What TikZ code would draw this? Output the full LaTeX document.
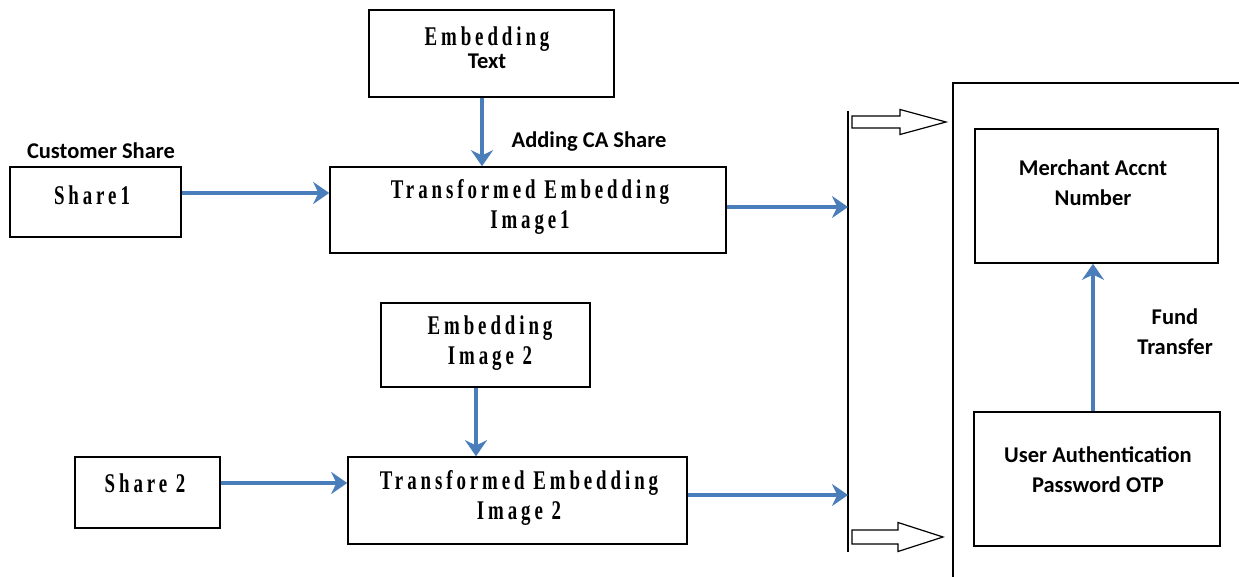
\documentclass[tikz,border=0pt]{standalone}
\usepackage{fontspec}
\setmainfont{Liberation Serif}
\newfontfamily\lblfont{Carlito}
\newfontfamily\ttlfont[FakeStretch=0.7,LetterSpace=14.5]{Liberation Serif}
\usetikzlibrary{arrows.meta}
\definecolor{flowblue}{RGB}{74,126,187}
\newcommand{\ttlf}{\ttlfont\bfseries\fontsize{27}{30}\selectfont}
\newcommand{\lblf}{\lblfont\bfseries\fontsize{22.5}{30}\selectfont}
\begin{document}
\begin{tikzpicture}[x=1pt,y=-1pt,
  box/.style={draw, line width=1.6pt, inner sep=0pt},
  ttl/.style={font=\ttlf, align=center, inner sep=0pt},
  lbl/.style={font=\lblf, align=center, inner sep=0pt},
  flow/.style={draw=flowblue, line width=3.8pt, -{Stealth[length=16pt,width=22pt]}},
  hollow/.style={draw, line width=1.2pt, fill=white},
  frame/.style={line width=1.3pt}]
\useasboundingbox (0,0) rectangle (1239,577);

% boxes
\node[box, minimum width=245pt, minimum height=87pt] (embtext) at (491.5,53.5) {};
\node[box, minimum width=171pt, minimum height=70pt] (share1) at (95.5,202) {};
\node[box, minimum width=396pt, minimum height=86pt] (te1) at (528,210) {};
\node[box, minimum width=209pt, minimum height=84pt] (embimg) at (485.5,345) {};
\node[box, minimum width=145pt, minimum height=71pt] (share2) at (147.5,492.5) {};
\node[box, minimum width=339pt, minimum height=87pt] (te2) at (517.5,500.5) {};
\node[box, minimum width=243pt, minimum height=134pt] (merchant) at (1096.5,196) {};
\node[box, minimum width=246pt, minimum height=134pt] (userauth) at (1097,479) {};

% texts
\node[align=center, inner sep=0pt, font=\fontsize{21}{23}\selectfont] (embtextT) at (487,48) {{\ttlf Embedding}\\{\lblf Text}};
\node[ttl] (share1T) at (92,195) {Share1};
\node[ttl] (te1T) at (530,207) {Transformed Embedding\\Image1};
\node[ttl] (embimgT) at (490,343) {Embedding\\Image 2};
\node[ttl] (share2T) at (145,483) {Share 2};
\node[ttl] (te2T) at (519,498) {Transformed Embedding\\Image 2};
\node[lbl] (merchantT) at (1093,183) {Merchant Accnt\\Number};
\node[lbl] (userauthT) at (1098,470) {User Authentication\\Password OTP};
\node[lbl] (custT) at (101,151) {Customer Share};
\node[lbl] (caT) at (589,142) {Adding CA Share};
\node[lbl] (fundT) at (1175,332) {Fund\\Transfer};

% bar and frame
\coordinate (bartop) at (848,111);
\coordinate (barbot) at (848,552);
\draw[frame] (bartop) -- (barbot);
\coordinate (frameL) at (953,577);
\coordinate (frameTL) at (953,83);
\coordinate (frameTR) at (1239,83);
\draw[frame] (frameL) -- (frameTL) -- (frameTR);

% blue flows
\draw[flow] ([xshift=-9.5pt]embtext.south) -- ([xshift=-46pt]te1.north);
\draw[flow] ([yshift=9pt]share1.east) -- ([yshift=9pt]share1.east -| te1.west);
\draw[flow] ([yshift=3pt]te1.east) -- ([yshift=3pt]te1.east -| bartop);
\draw[flow] ([xshift=-9.5pt]embimg.south) -- ([xshift=-41.5pt]te2.north);
\draw[flow] ([yshift=9.5pt]share2.east) -- ([yshift=9.5pt]share2.east -| te2.west);
\draw[flow] ([yshift=5.5pt]te2.east) -- ([yshift=5.5pt]te2.east -| bartop);
\draw[flow] ([xshift=-4pt]userauth.north) -- ([xshift=-3.5pt]merchant.south);

% hollow arrows
\coordinate (h1) at (852,122);
\coordinate (h2) at (852,537);
\draw[hollow] (h1) ++(0,-6) -- ++(48,0) -- ++(0,-6.5) -- ++(46,12.5) -- ++(-46,12.5) -- ++(0,-6.5) -- ++(-48,0) -- cycle;
\draw[hollow] (h2) ++(0,-7) -- ++(46,0) -- ++(0,-7.5) -- ++(45,14.5) -- ++(-45,14.5) -- ++(0,-7.5) -- ++(-46,0) -- cycle;
\end{tikzpicture}
\end{document}
